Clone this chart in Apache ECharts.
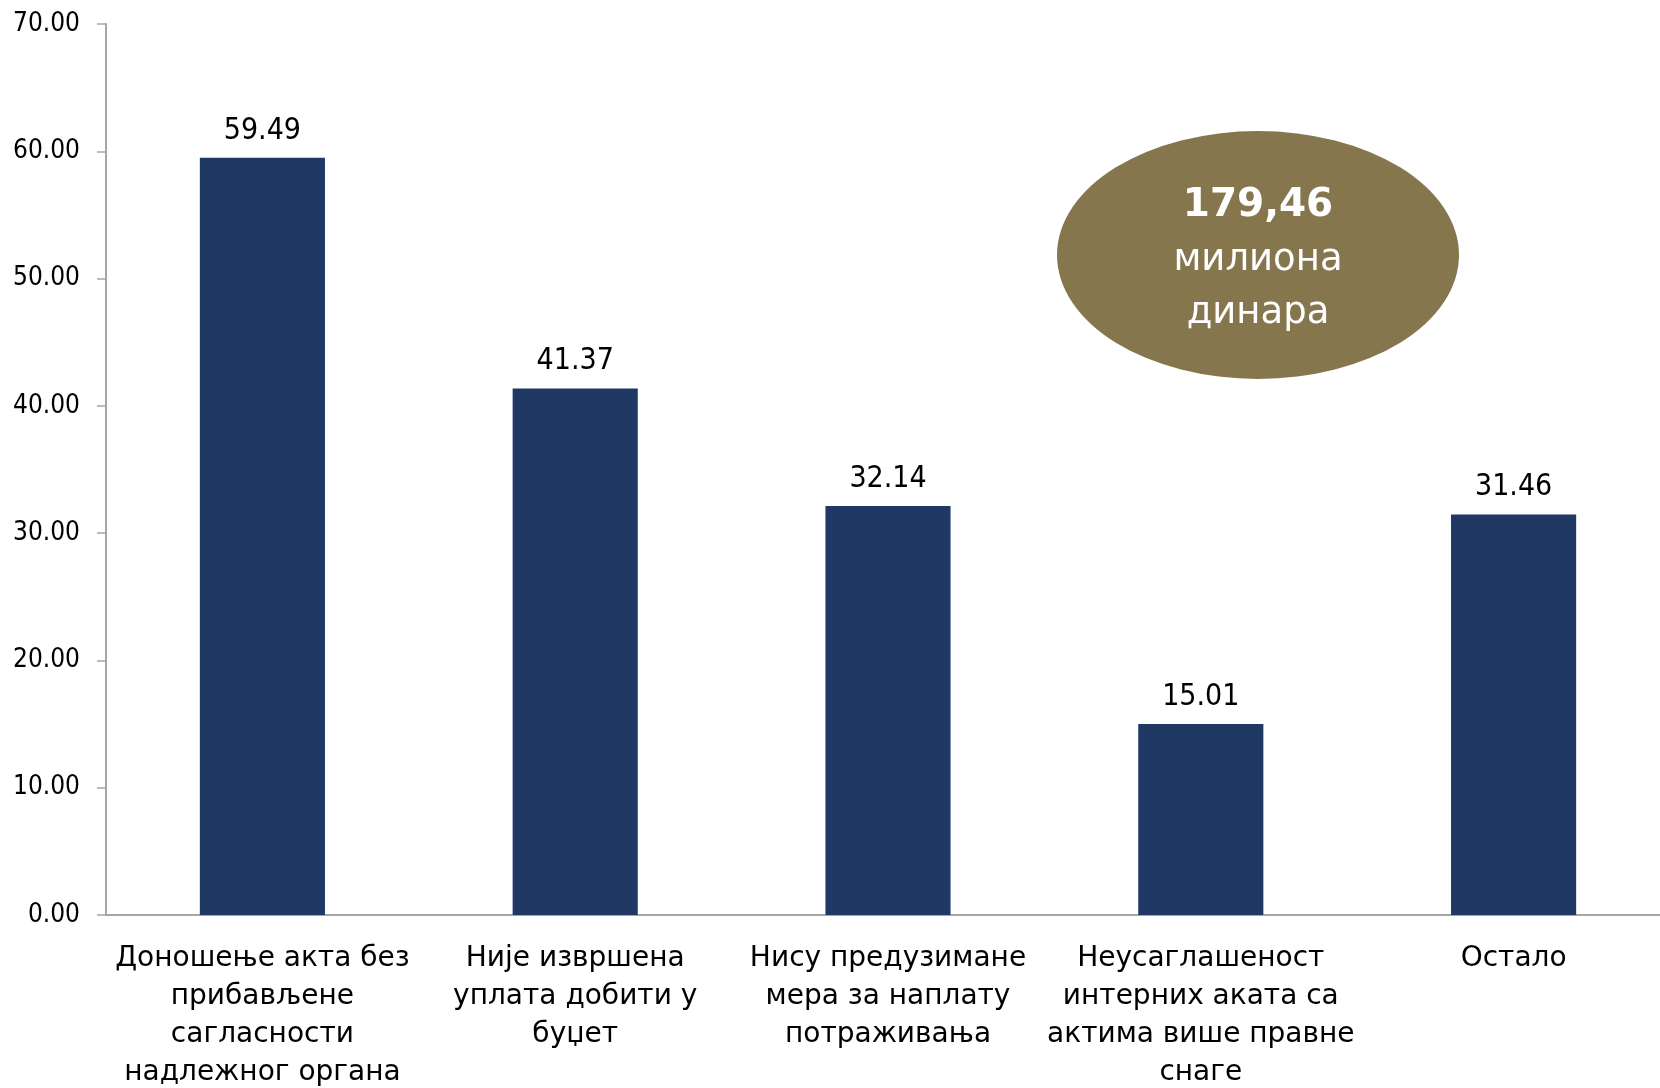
<!DOCTYPE html>
<html><head><meta charset="utf-8">
<script src="https://cdn.jsdelivr.net/npm/echarts@6/dist/echarts.min.js"></script>
<style>html,body{margin:0;padding:0;background:#fff}#c{width:1660px;height:1088px}</style>
</head><body><div id="c"></div>
<script>
const categories = [
  "Доношење акта без\nприбављене\nсагласности\nнадлежног органа",
  "Није извршена\nуплата добити у\nбуџет",
  "Нису предузимане\nмера за наплату\nпотраживања",
  "Неусаглашеност\nинтерних аката са\nактима више правне\nснаге",
  "Остало"
];
const values = [59.49, 41.37, 32.14, 15.01, 31.46];
const yTicks = { min: 0, max: 70, interval: 10 };
const totalValue = "179,46";
const totalUnit = "милиона\nдинара";

const font = "DejaVu Sans";
const fontC = "DejaVu Sans Condensed";
const chart = echarts.init(document.getElementById('c'));
chart.setOption({
  animation: false,
  backgroundColor: '#fff',
  grid: { left: 106, width: 1564, top: 24, bottom: 173, containLabel: false, outerBoundsMode: 'none' },
  xAxis: {
    type: 'category', data: categories,
    axisLine: { lineStyle: { color: '#A6A6A6', width: 2 } },
    axisTick: { length: 10, lineStyle: { color: '#A6A6A6', width: 1.5 } },
    axisLabel: { color: '#000', fontFamily: font, fontSize: 28, lineHeight: 38, margin: 25, interval: 0 }
  },
  yAxis: {
    type: 'value', min: yTicks.min, max: yTicks.max, interval: yTicks.interval,
    splitLine: { show: false },
    axisLine: { show: true, lineStyle: { color: '#A6A6A6', width: 2 } },
    axisTick: { show: true, length: 9, lineStyle: { color: '#A6A6A6', width: 1.5 } },
    axisLabel: { color: '#000', fontFamily: fontC, fontSize: 26, margin: 26, formatter: v => v.toFixed(2) }
  },
  series: [{
    type: 'bar', data: values, barWidth: '40%',
    itemStyle: { color: '#1F3864' },
    label: { show: true, position: 'top', distance: 12, color: '#000', fontFamily: fontC, fontSize: 30, formatter: p => p.value.toFixed(2) }
  }],
  graphic: [
    { type: 'circle', x: 1258, y: 255, scaleY: 124/201, shape: { cx: 0, cy: 0, r: 201 }, style: { fill: '#85764D' } },
    { type: 'text', x: 1258, y: 206, style: { text: totalValue, fill: '#fff', font: 'bold 39px "DejaVu Sans"', textAlign: 'center', textVerticalAlign: 'middle' } },
    { type: 'text', x: 1258, y: 287, style: { text: totalUnit, fill: '#fff', font: '37px "DejaVu Sans"', lineHeight: 53, textAlign: 'center', textVerticalAlign: 'middle' } }
  ]
});
</script></body></html>
